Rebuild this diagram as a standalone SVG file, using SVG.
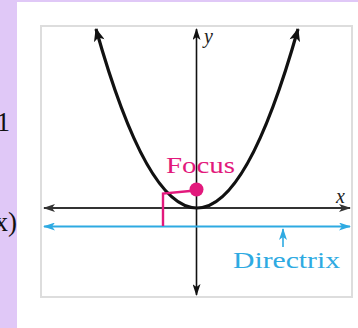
<svg xmlns="http://www.w3.org/2000/svg" width="358" height="328" viewBox="0 0 358 328">
<defs>
<style>
.serif{font-family:"Liberation Serif","DejaVu Serif",serif}
.pink{fill:#e2197c}
.blue{fill:#2eaae2}
</style>
<marker id="ak" viewBox="0 0 12 8" refX="11" refY="4" markerWidth="12" markerHeight="8" markerUnits="userSpaceOnUse" orient="auto-start-reverse">
<path d="M0,0 L12,4 L0,8 L3,4 Z" fill="#111"/>
</marker>
<marker id="ag" viewBox="0 0 12 8" refX="11" refY="4" markerWidth="12" markerHeight="8" markerUnits="userSpaceOnUse" orient="auto-start-reverse">
<path d="M0,0 L12,4 L0,8 L3,4 Z" fill="#333"/>
</marker>
<marker id="ab" viewBox="0 0 12 8" refX="11" refY="4" markerWidth="12" markerHeight="8" markerUnits="userSpaceOnUse" orient="auto-start-reverse">
<path d="M0,0 L12,4 L0,8 L3,4 Z" fill="#2eaae2"/>
</marker>
<marker id="ap" viewBox="0 0 12 10" refX="11" refY="5" markerWidth="14" markerHeight="11" markerUnits="userSpaceOnUse" orient="auto-start-reverse">
<path d="M0,0 L12,5 L0,10 L3,5 Z" fill="#111"/>
</marker>
</defs>
<rect x="0" y="0" width="358" height="328" fill="#ffffff"/>
<rect x="0" y="0" width="17" height="328" fill="#e0c8f7"/>
<rect x="0" y="0" width="358" height="2" fill="#e0c8f7"/>
<text class="serif" x="10" y="131" font-size="27" text-anchor="end" fill="#111">1</text>
<text class="serif" x="17" y="231" font-size="27" text-anchor="end" fill="#111">x)</text>
<rect x="41" y="26" width="311" height="271" fill="#fff" stroke="#dddddd" stroke-width="2"/>
<g id="axes">
<line x1="44" y1="208" x2="350" y2="208" stroke="#333" stroke-width="1.8" marker-start="url(#ag)" marker-end="url(#ag)"/>
<line x1="196.5" y1="29" x2="196.5" y2="295" stroke="#111" stroke-width="1.6" marker-start="url(#ak)" marker-end="url(#ak)"/>
<text class="serif" x="204" y="43" font-size="20" font-style="italic" fill="#222">y</text>
<text class="serif" x="336" y="203" font-size="20" font-style="italic" fill="#222">x</text>
</g>
<g id="directrix">
<line x1="44" y1="226.5" x2="350" y2="226.5" stroke="#2eaae2" stroke-width="2.2" marker-start="url(#ab)" marker-end="url(#ab)"/>
<line x1="283" y1="247" x2="283" y2="229" stroke="#2eaae2" stroke-width="1.6" marker-end="url(#ab)"/>
<text class="serif blue" x="233" y="268" font-size="24" textLength="107" lengthAdjust="spacingAndGlyphs">Directrix</text>
</g>
<g id="parabola">
<path d="M96,29 Q197,387 298,29" fill="none" stroke="#111" stroke-width="3.2" marker-start="url(#ap)" marker-end="url(#ap)"/>
</g>
<g id="focus">
<polyline points="163,226 163,193.5 190,191" fill="none" stroke="#e2197c" stroke-width="2.4"/>
<circle cx="196.5" cy="189.5" r="7" fill="#e2197c"/>
<text class="serif pink" x="166" y="173" font-size="24" textLength="69" lengthAdjust="spacingAndGlyphs">Focus</text>
</g>
</svg>
